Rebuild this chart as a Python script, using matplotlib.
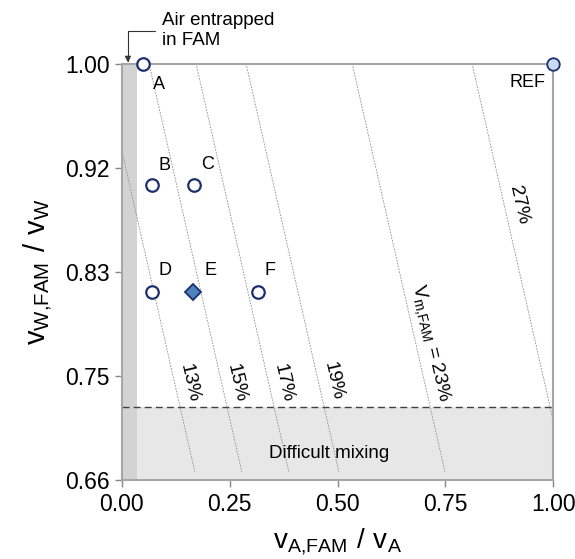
import matplotlib
matplotlib.use("Agg")
import matplotlib.pyplot as plt

# points (v_A,FAM / v_A, v_W,FAM / v_W)
pt_names = ["A", "B", "C", "D", "F"]
pt_x = [0.049, 0.069, 0.168, 0.069, 0.315]
pt_y = [1.0, 0.901, 0.901, 0.814, 0.814]
e_x, e_y = 0.164, 0.814
ref_x, ref_y = 1.0, 1.0

# iso-lines of V_m,FAM: x at y=1.0 and at y=0.667
iso_labels = ["13%", "15%", "17%", "19%", r"$\mathregular{V_{m{,}FAM}}$ = 23%", "27%"]
iso_x_top = [-0.046, 0.063, 0.172, 0.288, 0.534, 0.812]
iso_x_bot = [0.169, 0.278, 0.387, 0.503, 0.749, 1.027]
iso_y_top, iso_y_bot = 1.0, 0.667

# label positions along each line (y of label centre)
iso_lab_y = [0.739, 0.739, 0.739, 0.741, 0.772, 0.885]

xticks = [0.0, 0.25, 0.5, 0.75, 1.0]
xticklabels = ["0.00", "0.25", "0.50", "0.75", "1.00"]
yticks = [0.66, 0.745, 0.83, 0.915, 1.0]
yticklabels = ["0.66", "0.75", "0.83", "0.92", "1.00"]

air_band = 0.035
mix_limit = 0.72

plt.rcParams.update({
    "font.family": ["Liberation Sans", "DejaVu Sans"],
    "mathtext.fontset": "custom",
    "mathtext.rm": "Liberation Sans",
})

navy = "#1c2f6e"
grey = "#a6a6a6"

fig = plt.figure(figsize=(5.75, 5.59), dpi=100)
ax = fig.add_axes([0.212, 0.141, 0.750, 0.745])
ax.set_xlim(0, 1)
ax.set_ylim(0.66, 1.0)

# shaded regions
ax.axhspan(0.66, mix_limit, color="#e7e7e7", lw=0, zorder=0)
ax.axvspan(0, air_band, color="#d3d3d3", lw=0, zorder=0.5)
ax.axhline(mix_limit, color="#404040", lw=1.0, ls=(0, (5, 3)), zorder=1)
ax.text(0.48, 0.682, "Difficult mixing", ha="center", va="center", fontsize=13.5)

# iso-lines with labels
span = (iso_y_top - iso_y_bot)
for xt, xb, lab, ly in zip(iso_x_top, iso_x_bot, iso_labels, iso_lab_y):
    ax.plot([xt, xb], [iso_y_top, iso_y_bot], color="#8c8c8c", lw=0.6,
            ls=(0, (2, 1.5)), zorder=1)
    lx = xt + (xb - xt) * (iso_y_top - ly) / span + 0.034
    ax.text(lx, ly, lab, rotation=-77, ha="center", va="center",
            fontsize=14, rotation_mode="anchor")

# markers
ax.plot(pt_x, pt_y, "o", ms=9, mfc="white", mec=navy, mew=1.6,
        zorder=5, clip_on=False)
ax.plot([e_x], [e_y], "D", ms=8, mfc="#4f81bd", mec=navy, mew=1.3, zorder=5)
ax.plot([ref_x], [ref_y], "o", ms=9, mfc="#c6dbef", mec=navy, mew=1.3,
        zorder=5, clip_on=False)

offsets = {"A": (0.022, -0.017), "B": (0.015, 0.016), "C": (0.015, 0.017),
           "D": (0.015, 0.017), "F": (0.015, 0.017)}
for n, x, y in zip(pt_names, pt_x, pt_y):
    dx, dy = offsets[n]
    ax.text(x + dx, y + dy, n, fontsize=13, va="center", ha="left")
ax.text(e_x + 0.027, e_y + 0.017, "E", fontsize=13, va="center", ha="left")
ax.text(ref_x - 0.017, ref_y - 0.015, "REF", fontsize=13, va="center", ha="right")

# annotation for entrapped air
ax.annotate("Air entrapped\nin FAM", xy=(0.014, 1.001), xytext=(0.093, 1.027),
            fontsize=13.5, ha="left", va="center", linespacing=1.25,
            annotation_clip=False,
            arrowprops=dict(arrowstyle="-|>", color="#333333", lw=0.8,
                            mutation_scale=9, shrinkA=3, shrinkB=0,
                            connectionstyle="angle,angleA=0,angleB=90,rad=0"))

for s in ax.spines.values():
    s.set_color(grey)
    s.set_linewidth(1.5)

ax.set_xticks(xticks)
ax.set_xticklabels(xticklabels)
ax.set_yticks(yticks)
ax.set_yticklabels(yticklabels)
ax.tick_params(labelsize=16.5, color="#888888", length=5, width=1, pad=4)

ax.set_xlabel(r"$\mathregular{v_{A{,}FAM}\ /\ v_A}$", fontsize=20, labelpad=8)
ax.set_ylabel(r"$\mathregular{v_{W{,}FAM}\ /\ v_W}$", fontsize=21, labelpad=8)

fig.savefig("out.png", dpi=100)
